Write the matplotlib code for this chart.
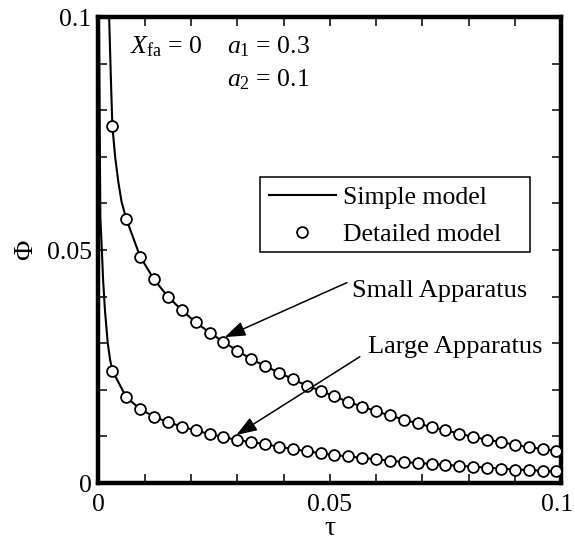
import matplotlib
matplotlib.use("Agg")
import matplotlib.pyplot as plt
from matplotlib.ticker import FixedLocator, FuncFormatter
from matplotlib.patches import Rectangle
from matplotlib.transforms import ScaledTranslation

plt.rcParams['font.family'] = ['Liberation Serif', 'DejaVu Serif']
plt.rcParams['mathtext.fontset'] = 'custom'
plt.rcParams['mathtext.rm'] = 'Liberation Serif'
plt.rcParams['mathtext.it'] = 'Liberation Serif:italic'

# ---- data ----
tau_pts = [0.003, 0.006, 0.009, 0.012, 0.015, 0.018, 0.021, 0.024, 0.027, 0.030,
           0.033, 0.036, 0.039, 0.042, 0.045, 0.048, 0.051, 0.054, 0.057, 0.060,
           0.063, 0.066, 0.069, 0.072, 0.075, 0.078, 0.081, 0.084, 0.087, 0.090,
           0.093, 0.096, 0.099]
small_detailed = [0.0766, 0.0567, 0.0486, 0.0437, 0.0400, 0.0371, 0.0345, 0.0323, 0.0303, 0.0284,
                  0.0266, 0.0251, 0.0237, 0.0223, 0.0209, 0.0198, 0.0186, 0.0174, 0.0164, 0.0154,
                  0.0145, 0.0136, 0.0128, 0.0120, 0.0113, 0.0106, 0.0099, 0.0093, 0.0088, 0.0082,
                  0.0077, 0.0073, 0.0069]
large_detailed = [0.0241, 0.0184, 0.0159, 0.0142, 0.0131, 0.0121, 0.0113, 0.0105, 0.0099, 0.0092,
                  0.0088, 0.0083, 0.0078, 0.0073, 0.0068, 0.0064, 0.0060, 0.0057, 0.0054, 0.0051,
                  0.0048, 0.0045, 0.0043, 0.0041, 0.0039, 0.0037, 0.0035, 0.0033, 0.0031, 0.0029,
                  0.0028, 0.0026, 0.0025]

# simple model curves: extra points read near tau -> 0, then through the marker positions
small_simple_tau = [0.0023, 0.0025, 0.0027, 0.003, 0.0036, 0.0043, 0.005] + tau_pts[1:] + [0.1]
small_simple_phi = [0.1, 0.093, 0.086, 0.0766, 0.070, 0.0645, 0.0603] + small_detailed[1:] + [0.0068]
large_simple_tau = [0.0001, 0.0004, 0.0007, 0.001, 0.0014, 0.002, 0.0025] + tau_pts + [0.1]
large_simple_phi = [0.1, 0.057, 0.0505, 0.0435, 0.037, 0.030, 0.0265] + large_detailed + [0.0025]

x_ticks = [0.0, 0.01, 0.02, 0.03, 0.04, 0.05, 0.06, 0.07, 0.08, 0.09, 0.1]
y_ticks = [0.0, 0.01, 0.02, 0.03, 0.04, 0.05, 0.06, 0.07, 0.08, 0.09, 0.1]
tick_labels = {0.0: '0', 0.05: '0.05', 0.1: '0.1'}

fig = plt.figure(figsize=(5.75, 5.44), dpi=100)
ax = fig.add_axes([0.1713, 0.1121, 0.8044, 0.8566])

line_h, = ax.plot(small_simple_tau, small_simple_phi, color='black', lw=1.5, zorder=2)
ax.plot(large_simple_tau, large_simple_phi, color='black', lw=1.5, zorder=2)
mark_h, = ax.plot(tau_pts, small_detailed, 'o', ms=7.8, mfc='white', mec='black', mew=1.3, zorder=3)
ax.plot(tau_pts, large_detailed, 'o', ms=7.8, mfc='white', mec='black', mew=1.3, zorder=3)

ax.set_xlim(0, 0.1)
ax.set_ylim(0, 0.1)

fmt = FuncFormatter(lambda v, p: tick_labels.get(round(v, 3), ''))
ax.xaxis.set_major_locator(FixedLocator(x_ticks))
ax.yaxis.set_major_locator(FixedLocator(y_ticks))
ax.xaxis.set_major_formatter(fmt)
ax.yaxis.set_major_formatter(fmt)
ax.tick_params(direction='in', length=6.5, width=1.1, top=True, right=True,
               labelsize=18.5, color='black')
ax.tick_params(axis='x', pad=8)
ax.tick_params(axis='y', pad=5)
for s in ax.spines.values():
    s.set_linewidth(3.2)

fig.canvas.draw()
lab = ax.get_xticklabels()[-1]
lab.set_transform(lab.get_transform() + ScaledTranslation(-0.04, 0, fig.dpi_scale_trans))

ax.set_xlabel('τ', fontsize=20, labelpad=0)
ax.set_ylabel('Φ', fontsize=20, labelpad=6)

leg = ax.legend([line_h, mark_h], ['Simple model', 'Detailed model'],
                loc='upper left', bbox_to_anchor=(0.349, 0.657), fontsize=18.5,
                frameon=False, numpoints=1,
                handlelength=2.6, handletextpad=0.3, labelspacing=0.55,
                borderpad=0.35, borderaxespad=0)
ax.add_patch(Rectangle((0.349, 0.4957), 0.933 - 0.349, 0.6567 - 0.4957,
                       transform=ax.transAxes, fill=False, edgecolor='black',
                       lw=1.1, zorder=4))

ax.text(0.0068, 0.0922, r'$X_{\rm fa}$ = 0', fontsize=18.5, ha='left', va='baseline')
ax.text(0.0278, 0.0922, r'$a_{1}$ = 0.3', fontsize=18.5, ha='left', va='baseline')
ax.text(0.0278, 0.0852, r'$a_{2}$ = 0.1', fontsize=18.5, ha='left', va='baseline')

arrow = dict(arrowstyle='-|>,head_length=0.7,head_width=0.25', color='black',
             lw=1.1, mutation_scale=18, shrinkA=0, shrinkB=0)
ax.annotate('', xy=(0.0273, 0.0313), xytext=(0.0537, 0.0430), arrowprops=arrow)
ax.annotate('', xy=(0.0298, 0.0103), xytext=(0.0565, 0.0271), arrowprops=arrow)
ax.text(0.0547, 0.0400, 'Small Apparatus', fontsize=19, ha='left', va='baseline')
ax.text(0.0583, 0.0278, 'Large Apparatus', fontsize=19, ha='left', va='baseline')

fig.savefig('out.png', dpi=100)
